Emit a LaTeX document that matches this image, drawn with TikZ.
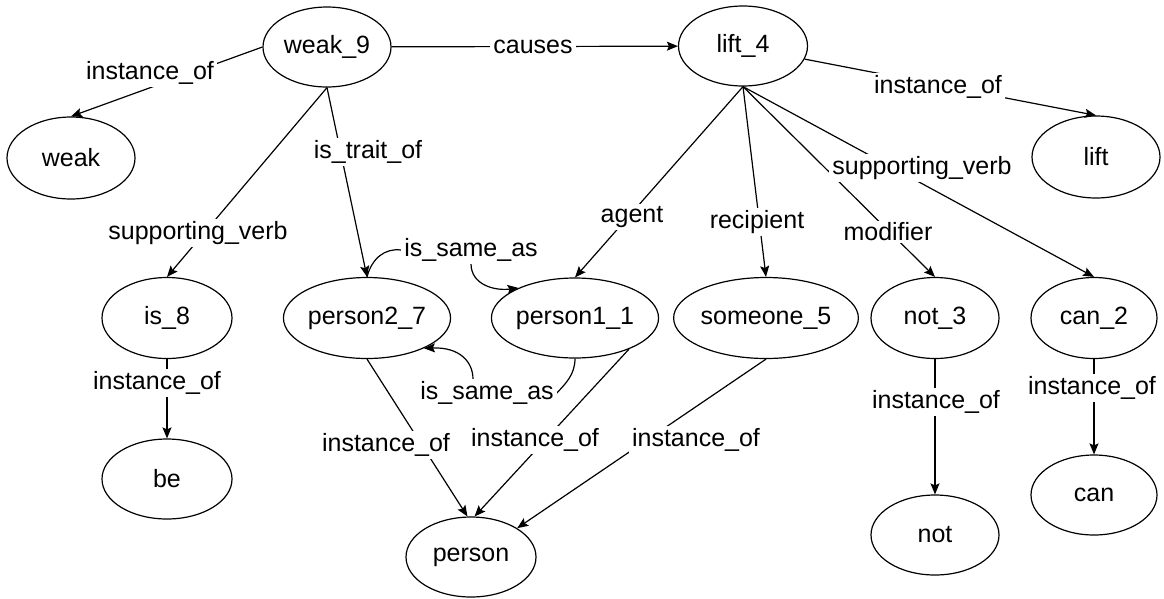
\documentclass[tikz,border=0pt]{standalone}
\usepackage{fontspec}
\setmainfont{Liberation Sans}
\usetikzlibrary{arrows.meta,shapes.geometric}
\pgfdeclarelayer{bg}
\pgfsetlayers{bg,main}
\begin{document}
\begin{tikzpicture}[x=1pt,y=1pt,
  nd/.style={draw, ellipse, line width=1.2pt, inner sep=0pt, font=\fontsize{25}{30}\selectfont},
  lbl/.style={fill=white, inner xsep=3pt, inner ysep=2pt, font=\fontsize{25}{30}\selectfont},
  conn/.style={line width=1.2pt, -{Stealth[length=11pt,width=9pt,inset=2pt]}}]
\useasboundingbox (0,0) rectangle (1164,-598);
% nodes
\node[nd, minimum width=128pt, minimum height=80pt] (weak9) at (327,-47) {weak\_9};
\node[nd, minimum width=128pt, minimum height=82pt] (weak) at (71,-158) {weak};
\node[nd, minimum width=129pt, minimum height=80pt] (lift4) at (743,-46) {lift\_4};
\node[nd, minimum width=128pt, minimum height=82pt] (lift) at (1096,-157) {lift};
\node[nd, minimum width=130pt, minimum height=81pt] (is8) at (167,-318) {is\_8};
\node[nd, minimum width=130pt, minimum height=80pt] (be) at (167,-479) {be};
\node[nd, minimum width=145pt, minimum height=81pt] (p27) at (367,-318) {person2\_7};
\node[nd, minimum width=144pt, minimum height=80pt] (p11) at (575,-318) {person1\_1};
\node[nd, minimum width=177pt, minimum height=81pt] (someone) at (766,-318) {someone\_5};
\node[nd, minimum width=128pt, minimum height=81pt] (not3) at (935,-318) {not\_3};
\node[nd, minimum width=128pt, minimum height=80pt] (not) at (935,-535) {not};
\node[nd, minimum width=126pt, minimum height=81pt] (can2) at (1094,-318) {can\_2};
\node[nd, minimum width=126pt, minimum height=80pt] (can) at (1094,-495) {can};
\node[nd, minimum width=130pt, minimum height=80pt] (person) at (471,-557) {person};
% labels
\node[lbl] (L1) at (150,-73) {instance\_of};
\node[lbl] (L2) at (533,-47) {causes};
\node[lbl] (L3) at (198,-233) {supporting\_verb};
\node[lbl] (L4) at (368,-152) {is\_trait\_of};
\node[lbl] (L5) at (471,-250) {is\_same\_as};
\node[lbl] (L6) at (487,-393) {is\_same\_as};
\node[lbl] (L7) at (157,-383) {instance\_of};
\node[lbl] (L8) at (632,-217) {agent};
\node[lbl] (L9) at (757,-222) {recipient};
\node[lbl] (L10) at (888,-232) {modifier};
\node[lbl] (L11) at (922,-168) {supporting\_verb};
\node[lbl] (L12) at (938,-87) {instance\_of};
\node[lbl] (L13) at (386,-445) {instance\_of};
\node[lbl] (L14) at (535,-440) {instance\_of};
\node[lbl] (L15) at (696,-440) {instance\_of};
\node[lbl] (L16) at (936,-402) {instance\_of};
\node[lbl] (L17) at (1092,-388) {instance\_of};
% edges
\begin{pgfonlayer}{bg}
\draw[conn] (weak9.west) -- (weak.north);
\draw[conn] (weak9) -- (lift4);
\draw[conn] (weak9.south) -- (is8.north);
\draw[conn] (weak9.south) -- (p27.north);
\draw[conn] (p27.north) .. controls (372,-258) and (385,-248) .. (L5.west)
  (L5.south) .. controls (471,-285) and (495,-291) .. (p11.152);
\draw[conn] (p11.south) .. controls (575,-375) and (565,-384) .. (L6.east)
  ([xshift=-14pt]L6.north) .. controls (473,-362) and (460,-347) .. (p27.-28);
\draw[conn] (is8.south) -- (be.north);
\draw[conn] (lift4.south) -- (p11.north);
\draw[conn] (lift4.south) -- (someone.north);
\draw[conn] (lift4.south) -- (not3.north);
\draw[conn] (lift4.south) -- (can2.north);
\draw[conn] (lift4.-12) -- (lift.north);
\draw[conn] (p27.south) -- (person.95);
\draw[conn] (p11.-30) -- (person.85);
\draw[conn] (someone.south) -- (person.32);
\draw[conn] (not3.south) -- (not.north);
\draw[conn] (can2.south) -- (can.north);
\end{pgfonlayer}
\end{tikzpicture}
\end{document}
